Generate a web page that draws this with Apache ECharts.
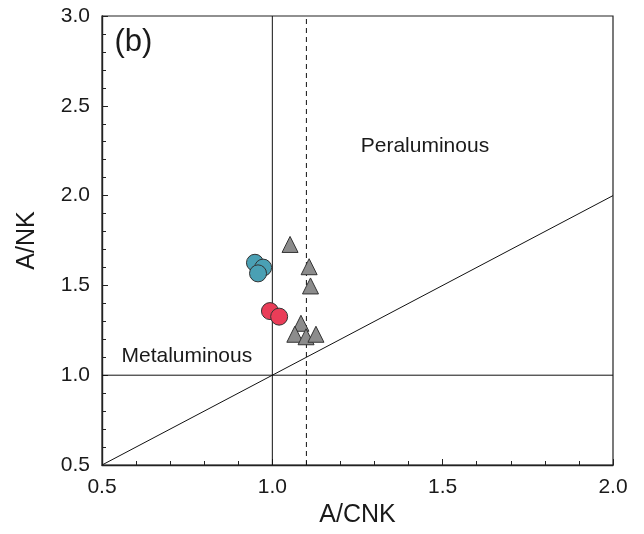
<!DOCTYPE html>
<html>
<head>
<meta charset="utf-8">
<script src="https://cdn.jsdelivr.net/npm/echarts@6/dist/echarts.min.js"></script>
<style>
html,body{margin:0;padding:0;background:#fff;}
#main{width:644px;height:534px;}
</style>
</head>
<body>
<div id="main"></div>
<script>
// A/CNK vs A/NK data
var blue_pts = [[0.949, 1.626], [0.973, 1.599], [0.958, 1.567]];
var red_pts = [[0.993, 1.357], [1.020, 1.326]];
var tri_pts = [[1.052, 1.728], [1.108, 1.604], [1.112, 1.497], [1.084, 1.289],
	[1.066, 1.228], [1.099, 1.214], [1.128, 1.228]];

var line_a = [[1.0, 0.5], [1.0, 3.0]];
var line_b = [[0.5, 1.0], [2.0, 1.0]];
var line_diag = [[0.5, 0.5], [2.0, 2.0]];
var line_dash = [[1.1, 0.5], [1.1, 3.0]];

var labels = [
	{name: 'Peraluminous', value: [1.448, 2.276]},
	{name: 'Metaluminous', value: [0.749, 1.104]}
];
var panel_label = {name: '(b)', value: [0.592, 2.85]};

var font = 'Arial, "Liberation Sans", sans-serif';
var ink = '#1a1a1a';

var myChart = echarts.init(document.getElementById('main'), null, {renderer: 'canvas'});

function guide(data, type){
	return {
		type: 'line', data: data, symbol: 'none', silent: true, z: 1,
		lineStyle: {color: '#111', width: 1, type: type || 'solid'}
	};
}

function text_series(data, size){
	return {
		type: 'scatter', data: data, symbolSize: 0, silent: true, z: 5,
		itemStyle: {opacity: 1},
		label: {show: true, position: 'inside', formatter: '{b}', opacity: 1,
			fontSize: size, color: ink, fontFamily: font}
	};
}

myChart.setOption({
	animation: false,
	backgroundColor: '#fff',
	grid: {left: 102, right: 31, top: 16, bottom: 69, show: true,
		borderColor: '#222', borderWidth: 1.2, backgroundColor: 'transparent'},
	xAxis: {
		type: 'value', min: 0.5, max: 2.0, interval: 0.5,
		name: 'A/CNK', nameLocation: 'middle', nameGap: 37,
		nameTextStyle: {fontSize: 25, color: ink, fontFamily: font},
		axisLine: {lineStyle: {color: '#222', width: 1.4}},
		axisTick: {inside: true, length: 6, lineStyle: {color: '#222'}},
		minorTick: {show: true, splitNumber: 5, length: 4, lineStyle: {color: '#222'}},
		axisLabel: {fontSize: 21, color: ink, fontFamily: font, margin: 12,
			formatter: function(v){ return v.toFixed(1); }},
		splitLine: {show: false}
	},
	yAxis: {
		type: 'value', min: 0.5, max: 3.0, interval: 0.5,
		name: 'A/NK', nameLocation: 'middle', nameGap: 62, nameRotate: 90,
		nameTextStyle: {fontSize: 25, color: ink, fontFamily: font},
		axisLine: {lineStyle: {color: '#222', width: 1.4}},
		axisTick: {inside: true, length: 6, lineStyle: {color: '#222'}},
		minorTick: {show: true, splitNumber: 5, length: 4, lineStyle: {color: '#222'}},
		axisLabel: {fontSize: 21, color: ink, fontFamily: font, margin: 12,
			formatter: function(v){ return v.toFixed(1); }},
		splitLine: {show: false}
	},
	series: [
		guide(line_a),
		guide(line_b),
		guide(line_diag),
		guide(line_dash, [5, 4]),
		{
			type: 'scatter', data: tri_pts, symbol: 'triangle', symbolSize: 16, z: 3,
			itemStyle: {color: '#8c8c8c', borderColor: '#333', borderWidth: 1, opacity: 1}
		},
		{
			type: 'scatter', data: blue_pts, symbol: 'circle', symbolSize: 17, z: 4,
			itemStyle: {color: '#4aa0b4', borderColor: '#333', borderWidth: 1, opacity: 1}
		},
		{
			type: 'scatter', data: red_pts, symbol: 'circle', symbolSize: 17, z: 4,
			itemStyle: {color: '#ea3d58', borderColor: '#333', borderWidth: 1, opacity: 1}
		},
		text_series(labels, 21),
		text_series([panel_label], 31)
	]
});
</script>
</body>
</html>
